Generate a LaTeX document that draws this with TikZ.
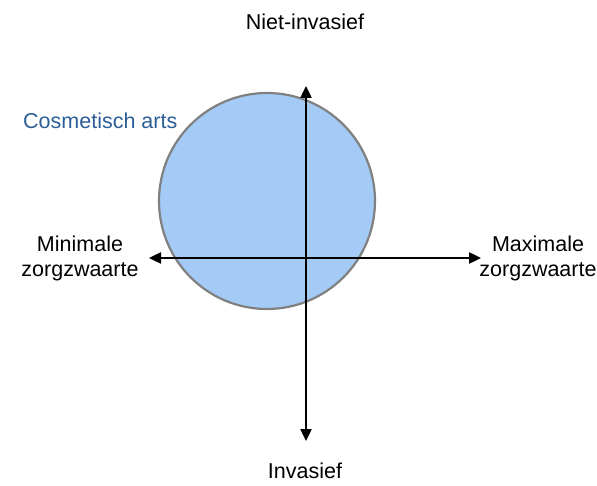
\documentclass[tikz,border=0pt]{standalone}
\usepackage{fontspec}
\setmainfont{Liberation Sans}
\usetikzlibrary{arrows.meta}
\definecolor{circfill}{HTML}{A3CBF6}
\definecolor{circedge}{HTML}{808080}
\definecolor{labelblue}{HTML}{2D5E96}
\tikzset{
  axis/.style={line width=2.4pt, -{Triangle[length=12pt,width=11pt]}},
  lbl/.style={font=\fontsize{21.5}{25}\selectfont, inner sep=0pt, align=center},
}
\begin{document}
\begin{tikzpicture}[x=1pt,y=-1pt]
\useasboundingbox (0,0) rectangle (597,486);
\node[circle, minimum size=216pt, fill=circfill, draw=circedge, line width=2.2pt, inner sep=0pt] (circ) at (267,201) {};
\coordinate (top) at (306,86);
\coordinate (bot) at (306,441);
\coordinate (lft) at (149,258);
\coordinate (rgt) at (481,258);
\coordinate (tstart) at (306,430);
\coordinate (bstart) at (306,100);
\coordinate (lstart) at (470,258);
\coordinate (rstart) at (160,258);
\draw[axis] (tstart) -- (top);
\draw[axis] (bstart) -- (bot);
\draw[axis] (lstart) -- (lft);
\draw[axis] (rstart) -- (rgt);
\node[lbl] (n1) at (305,22) {Niet-invasief};
\node[lbl] (n2) at (305,471) {Invasief};
\node[lbl] (n3) at (80,258) {Minimale\\zorgzwaarte};
\node[lbl] (n4) at (538,258) {Maximale\\zorgzwaarte};
\node[lbl, text=labelblue, anchor=west] (n5) at (23,121) {Cosmetisch arts};
\end{tikzpicture}
\end{document}
